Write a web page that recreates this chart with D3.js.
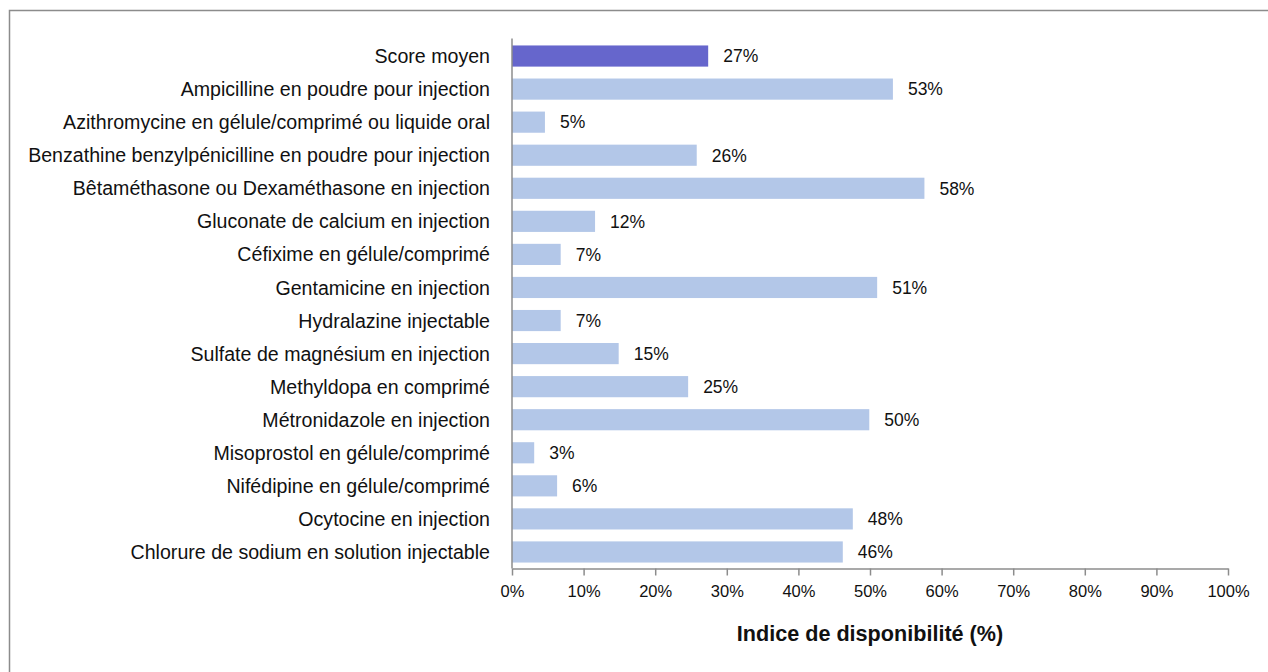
<!DOCTYPE html>
<html>
<head>
<meta charset="utf-8">
<script src="https://cdn.jsdelivr.net/npm/d3@7"></script>
<style>
  body { margin: 0; background: #fff; }
  svg { display: block; font-family: "Liberation Sans", Arial, sans-serif; }
</style>
</head>
<body>
<svg id="chart" width="1268" height="672"></svg>
<script>
// categories, top to bottom
let categories = [
  "Score moyen",
  "Ampicilline en poudre pour injection",
  "Azithromycine en gélule/comprimé ou liquide oral",
  "Benzathine benzylpénicilline en poudre pour injection",
  "Bêtaméthasone ou Dexaméthasone en injection",
  "Gluconate de calcium en injection",
  "Céfixime en gélule/comprimé",
  "Gentamicine en injection",
  "Hydralazine injectable",
  "Sulfate de magnésium en injection",
  "Methyldopa en comprimé",
  "Métronidazole en injection",
  "Misoprostol en gélule/comprimé",
  "Nifédipine en gélule/comprimé",
  "Ocytocine en injection",
  "Chlorure de sodium en solution injectable"
];

// availability index (%)
let values = [27.4, 53.2, 4.6, 25.8, 57.6, 11.6, 6.8, 51.0, 6.8, 14.9, 24.6, 49.9, 3.1, 6.3, 47.6, 46.2];

let xTicks = [0, 10, 20, 30, 40, 50, 60, 70, 80, 90, 100];
let xTitle = "Indice de disponibilité (%)";

let margin = {left: 512, right: 40, top: 39.5, bottom: 103.5};
let width = 1268, height = 672;

let svg = d3.select("#chart");

// outer frame
svg.append("rect")
  .attr("x", 9.5)
  .attr("y", 10.5)
  .attr("width", 1300)
  .attr("height", 700)
  .style("fill", "none")
  .style("stroke", "#8c8c8c")
  .style("stroke-width", 1.5);

let x = d3.scaleLinear()
  .domain([0, 100])
  .range([margin.left, 1228]);

let y = d3.scaleBand()
  .domain(categories)
  .range([margin.top, height - margin.bottom])
  .paddingInner(0.36)
  .paddingOuter(0.18);

// bars
svg.selectAll("rect.bar")
  .data(values)
  .enter()
  .append("rect")
  .attr("class", "bar")
  .attr("x", x(0))
  .attr("y", (d, i) => y(categories[i]))
  .attr("width", d => x(d) - x(0))
  .attr("height", y.bandwidth())
  .style("fill", (d, i) => i == 0 ? "#6666cc" : "#b3c7e8");

// value labels
svg.selectAll("text.val")
  .data(values)
  .enter()
  .append("text")
  .attr("class", "val")
  .attr("x", d => x(d) + 15)
  .attr("y", (d, i) => y(categories[i]) + y.bandwidth() / 2)
  .attr("dy", "0.36em")
  .text(d => Math.round(d) + "%")
  .style("font-size", "17.5px")
  .style("fill", "#111");

// category labels
svg.selectAll("text.cat")
  .data(categories)
  .enter()
  .append("text")
  .attr("class", "cat")
  .attr("x", margin.left - 22)
  .attr("y", d => y(d) + y.bandwidth() / 2)
  .attr("dy", "0.36em")
  .style("text-anchor", "end")
  .style("font-size", "19.6px")
  .style("fill", "#111")
  .text(d => d);

// y axis line
svg.append("line")
  .attr("x1", x(0))
  .attr("x2", x(0))
  .attr("y1", margin.top - 1)
  .attr("y2", height - margin.bottom)
  .style("stroke", "#8c8c8c")
  .style("stroke-width", 1.5);

// x axis
let xAxis = d3.axisBottom(x)
  .tickValues(xTicks)
  .tickSize(7)
  .tickSizeOuter(0)
  .tickFormat(d => d + "%");

let gx = svg.append("g")
  .attr("transform", "translate(0," + (height - margin.bottom) + ")")
  .call(xAxis);
gx.select(".domain").style("stroke", "#8c8c8c").style("stroke-width", 1.5);
gx.selectAll(".tick line").style("stroke", "#8c8c8c").style("stroke-width", 1.5);
gx.selectAll(".tick text")
  .attr("y", 17)
  .style("font-family", "Liberation Sans, Arial, sans-serif")
  .style("font-size", "16.5px")
  .style("fill", "#111");

// axis title
svg.append("text")
  .attr("x", (x(0) + x(100)) / 2)
  .attr("y", 641)
  .style("text-anchor", "middle")
  .style("font-size", "21.6px")
  .style("font-weight", "bold")
  .style("fill", "#111")
  .text(xTitle);
</script>
</body>
</html>
